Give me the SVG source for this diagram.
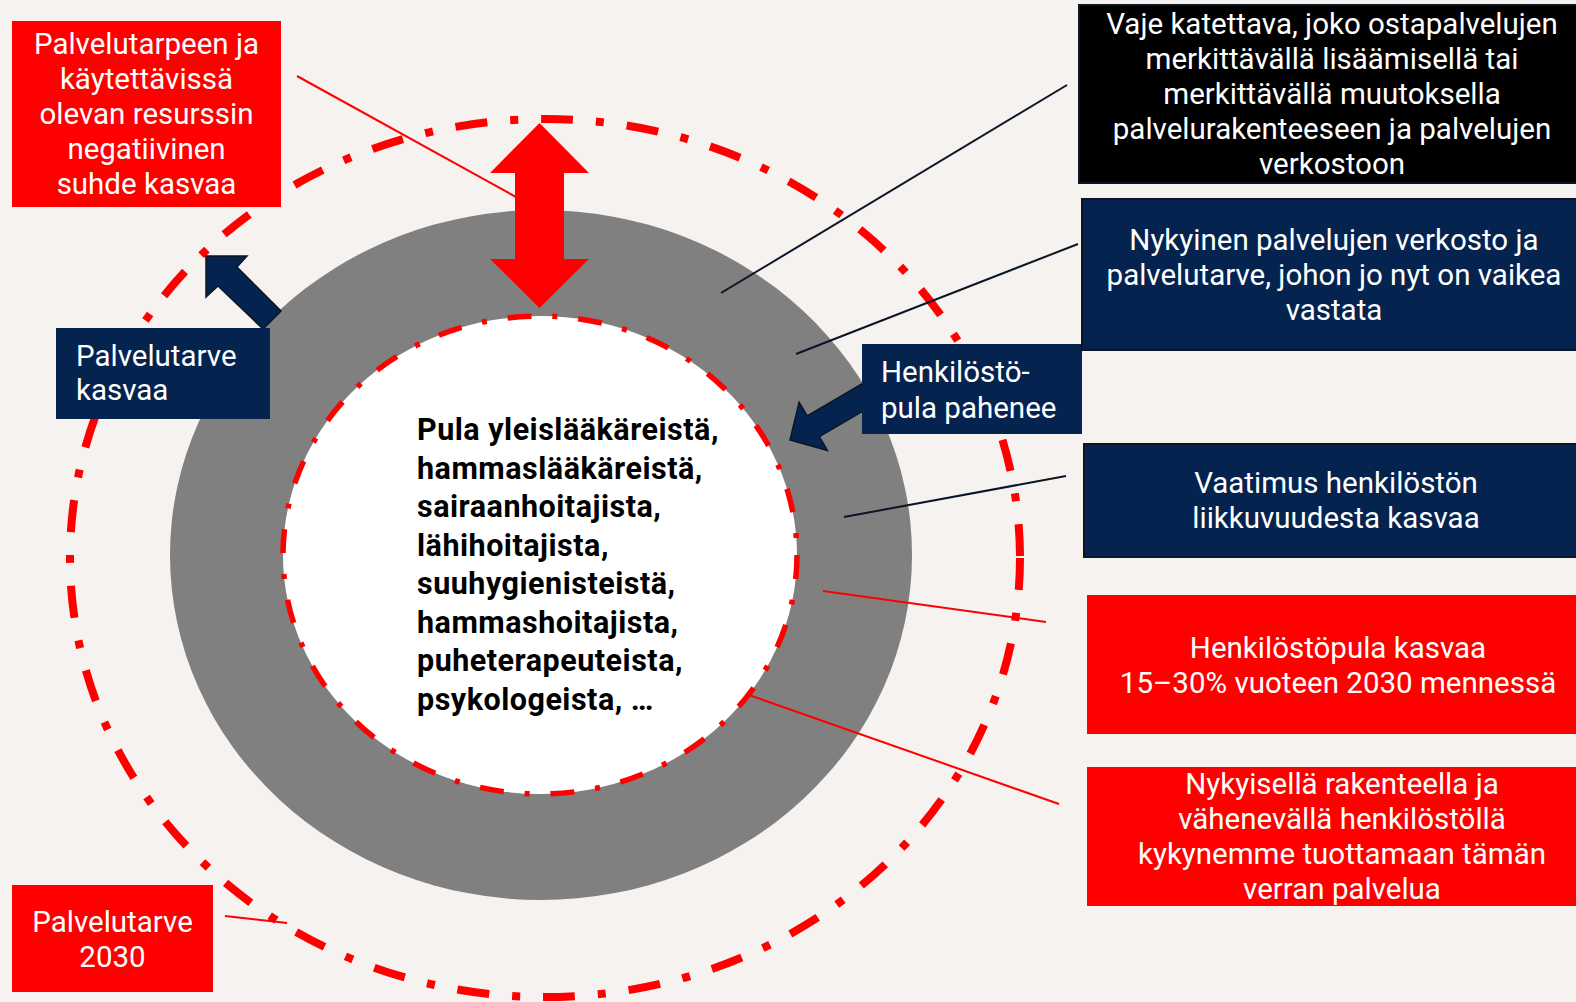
<svg xmlns="http://www.w3.org/2000/svg" width="1576" height="1002" viewBox="0 0 1576 1002">
<style>
.t{font-family:Roboto,"Liberation Sans",sans-serif;font-size:29.5px;fill:#FFFFFF}
.c{text-anchor:middle}
.b{font-family:Roboto,"Liberation Sans",sans-serif;font-size:30.5px;font-weight:bold;fill:#000000;letter-spacing:0.5px}
.red{fill:#FF0000}
.navy{fill:#04244F}
.nb{fill:#04244F;stroke:#0B1526;stroke-width:2}
.blk{fill:#000000;stroke:#0B1526;stroke-width:2}
.lr{stroke:#FF0000;stroke-width:2;fill:none}
.ln{stroke:#0B1526;stroke-width:2;fill:none}
</style>
<rect width="1576" height="1002" fill="#F5F2EF"/>
<g id="rings">
<ellipse cx="541" cy="555" rx="371" ry="345" fill="#808080"/>
<ellipse cx="540" cy="555" rx="257" ry="239" fill="#FFFFFF"/>
<ellipse cx="540" cy="555" rx="257" ry="239" fill="none" stroke="#FF0000" stroke-width="5.5" stroke-dasharray="24 21 5 21"/>
<ellipse cx="545" cy="558" rx="475" ry="439" fill="none" stroke="#FF0000" stroke-width="8" stroke-dasharray="32 23 8 23"/>
</g>
<g id="connectors">
<line class="lr" x1="297" y1="76" x2="516" y2="197"/>
<line class="lr" x1="225" y1="916" x2="287" y2="923"/>
<line class="ln" x1="1067" y1="85" x2="721" y2="293"/>
<line class="ln" x1="1078" y1="244" x2="796" y2="354"/>
<line class="ln" x1="1066" y1="476" x2="844" y2="517"/>
<line class="lr" x1="1046" y1="622" x2="823" y2="591"/>
<line class="lr" x1="1059" y1="804" x2="749" y2="695"/>
</g>
<g id="arrow-gap">
<polygon class="red" points="539.5,123 589,173 564,173 564,259 589,259 539.5,308 490,259 515,259 515,173 490,173"/>
</g>
<g id="arrow-demand">
<polygon class="navy" stroke="#0B1526" stroke-width="1.5" points="206,256 247,256 237,267 281,311 263,329 218,286 206,297"/>
</g>
<g id="arrow-staff">
<polygon class="navy" stroke="#0B1526" stroke-width="1.5" transform="translate(790,440) rotate(149.6)" points="0,0 -27,-28 -27,-12 -95,-12 -95,12 -27,12 -27,28"/>
</g>
<g id="box-ratio">
<rect class="red" x="12" y="21" width="269" height="186"/>
<text class="t c" x="146.5" y="54">Palvelutarpeen ja</text>
<text class="t c" x="146.5" y="89">käytettävissä</text>
<text class="t c" x="146.5" y="124">olevan resurssin</text>
<text class="t c" x="146.5" y="159">negatiivinen</text>
<text class="t c" x="146.5" y="194">suhde kasvaa</text>
</g>
<g id="box-demand">
<rect class="navy" x="56" y="328" width="214" height="91"/>
<text class="t" x="76" y="366">Palvelutarve</text>
<text class="t" x="76" y="400">kasvaa</text>
</g>
<g id="box-2030">
<rect class="red" x="12" y="885" width="201" height="107"/>
<text class="t c" x="112.5" y="932">Palvelutarve</text>
<text class="t c" x="112.5" y="967">2030</text>
</g>
<g id="box-staff">
<rect class="navy" x="862" y="344" width="220" height="90"/>
<text class="t" x="881" y="382">Henkilöstö-</text>
<text class="t" x="881" y="418">pula pahenee</text>
</g>
<g id="box-gap">
<rect class="blk" x="1079" y="5" width="500" height="178"/>
<text class="t c" x="1332" y="34">Vaje katettava, joko ostapalvelujen</text>
<text class="t c" x="1332" y="69">merkittävällä lisäämisellä tai</text>
<text class="t c" x="1332" y="104">merkittävällä muutoksella</text>
<text class="t c" x="1332" y="139">palvelurakenteeseen ja palvelujen</text>
<text class="t c" x="1332" y="174">verkostoon</text>
</g>
<g id="box-network">
<rect class="nb" x="1082" y="199" width="497" height="151"/>
<text class="t c" x="1334" y="250">Nykyinen palvelujen verkosto ja</text>
<text class="t c" x="1334" y="285">palvelutarve, johon jo nyt on vaikea</text>
<text class="t c" x="1334" y="320">vastata</text>
</g>
<g id="box-mobility">
<rect class="nb" x="1084" y="444" width="495" height="113"/>
<text class="t c" x="1336" y="493">Vaatimus henkilöstön</text>
<text class="t c" x="1336" y="528">liikkuvuudesta kasvaa</text>
</g>
<g id="box-shortage">
<rect class="red" x="1087" y="595" width="489" height="139"/>
<text class="t c" x="1338" y="658">Henkilöstöpula kasvaa</text>
<text class="t c" x="1338" y="693">15–30% vuoteen 2030 mennessä</text>
</g>
<g id="box-capacity">
<rect class="red" x="1087" y="767" width="489" height="139"/>
<text class="t c" x="1342" y="794">Nykyisellä rakenteella ja</text>
<text class="t c" x="1342" y="829">vähenevällä henkilöstöllä</text>
<text class="t c" x="1342" y="864">kykynemme tuottamaan tämän</text>
<text class="t c" x="1342" y="899">verran palvelua</text>
</g>
<g id="center-text">
<text class="b" x="417" y="440">Pula yleislääkäreistä,</text>
<text class="b" x="417" y="478.5">hammaslääkäreistä,</text>
<text class="b" x="417" y="517">sairaanhoitajista,</text>
<text class="b" x="417" y="555.5">lähihoitajista,</text>
<text class="b" x="417" y="594">suuhygienisteistä,</text>
<text class="b" x="417" y="632.5">hammashoitajista,</text>
<text class="b" x="417" y="671">puheterapeuteista,</text>
<text class="b" x="417" y="709.5">psykologeista, …</text>
</g>
</svg>
